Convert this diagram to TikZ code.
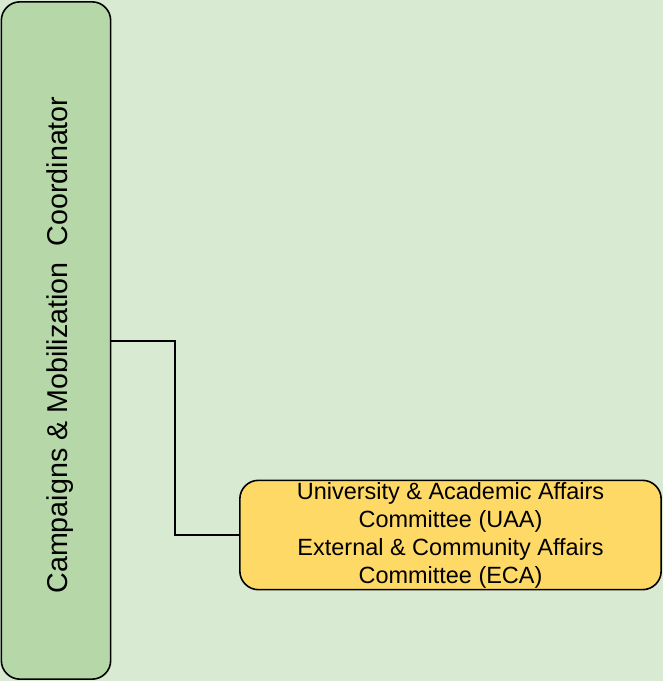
\documentclass[tikz,border=0pt]{standalone}
\usepackage{fontspec}
\setmainfont{Liberation Sans}
\usetikzlibrary{positioning}

\definecolor{bgGreen}{HTML}{D9EAD3}
\definecolor{roleGreen}{HTML}{B6D7A8}
\definecolor{cmtYellow}{HTML}{FFD966}

\tikzset{
  rolebox/.style={draw=black, line width=1.2pt, fill=roleGreen, rounded corners=14pt,
    minimum width=82pt, minimum height=508pt, inner sep=0pt},
  cmtbox/.style={draw=black, line width=1.2pt, fill=cmtYellow, rounded corners=14pt,
    minimum width=316pt, minimum height=82pt, inner sep=0pt, align=center,
    font=\fontsize{17.6}{21}\selectfont},
  link/.style={draw=black, line width=0.9pt}
}

\begin{document}
\begin{tikzpicture}[x=0.75pt,y=-0.75pt]
  \fill[bgGreen] (0,0) rectangle (663,681);
  \useasboundingbox (0,0) rectangle (663,681);
  \node[rolebox] (coord) at (56,340.5) {};
  \node[rotate=90, font=\fontsize{21.5}{24}\selectfont] at (60,345)
    {Campaigns \& Mobilization\ \ Coordinator};
  \node[cmtbox] (uaa) at (450.5,535) {University \& Academic Affairs\\Committee (UAA)\\External \& Community Affairs\\Committee (ECA)};
  \coordinate (bend) at (175,341);
  \draw[link] (coord.east |- bend) -- (bend) |- (uaa.west);
\end{tikzpicture}
\end{document}
